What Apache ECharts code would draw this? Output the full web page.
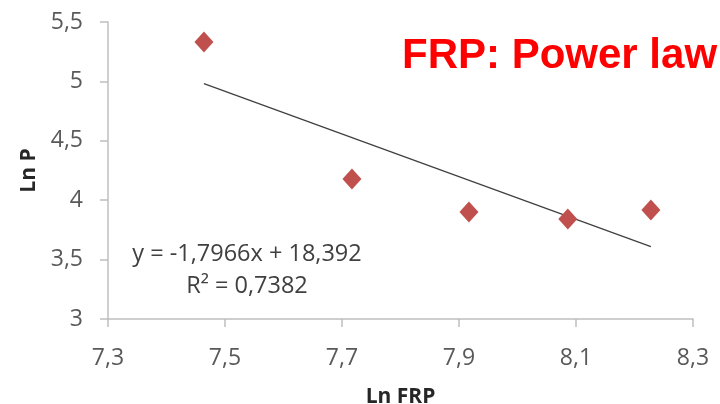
<!DOCTYPE html>
<html><head><meta charset="utf-8">
<script src="https://cdn.jsdelivr.net/npm/echarts@6/dist/echarts.min.js"></script>
<style>html,body{margin:0;padding:0;background:#fff}#c{width:720px;height:404px}</style>
</head><body><div id="c"></div>
<script>
var lnFRP = [7.464, 7.717, 7.917, 8.086, 8.228];
var lnP = [5.332, 4.178, 3.900, 3.842, 3.917];
var trendX = [7.464, 8.228];
var trendY = [4.982, 3.610];
var xTicks = ['7,3','7,5','7,7','7,9','8,1','8,3'];
var yTicks = ['3','3,5','4','4,5','5','5,5'];
var titleText = 'FRP: Power law';
var eqText = 'y = -1,7966x + 18,392';
var r2Text = 'R² = 0,7382';

var font = 'Open Sans';
var chart = echarts.init(document.getElementById('c'));
chart.setOption({
  animation: false,
  grid: {left: 108, right: 27, top: 22, bottom: 85, containLabel: false, outerBoundsMode: 'none'},
  xAxis: {
    type: 'value', min: 7.3, max: 8.3, interval: 0.2,
    name: 'Ln FRP', nameLocation: 'middle', nameGap: 68,
    nameTextStyle: {fontFamily: font, fontWeight: 'bold', fontSize: 21, color: '#262626'},
    axisLine: {show: true, lineStyle: {color: '#bfbfbf', width: 1.5}},
    axisTick: {show: true, length: 8, lineStyle: {color: '#bfbfbf', width: 1.5}},
    splitLine: {show: false},
    axisLabel: {margin: 28, fontFamily: font, fontSize: 23, color: '#595959',
      formatter: function (v) { return xTicks[Math.round((v - 7.3) / 0.2)]; }}
  },
  yAxis: {
    type: 'value', min: 3, max: 5.5, interval: 0.5,
    name: 'Ln P', nameLocation: 'middle', nameGap: 68, nameRotate: 90,
    nameTextStyle: {fontFamily: font, fontWeight: 'bold', fontSize: 21, color: '#262626'},
    axisLine: {show: true, lineStyle: {color: '#bfbfbf', width: 1.5}},
    axisTick: {show: true, length: 8, lineStyle: {color: '#bfbfbf', width: 1.5}},
    splitLine: {show: false},
    axisLabel: {margin: 25, fontFamily: font, fontSize: 23, color: '#595959',
      formatter: function (v) { return yTicks[Math.round((v - 3) / 0.5)]; }}
  },
  series: [
    {type: 'line', data: trendX.map(function (x, i) { return [x, trendY[i]]; }),
      showSymbol: false, symbol: 'none', lineStyle: {color: '#404040', width: 1.3}, z: 1},
    {type: 'scatter', data: lnFRP.map(function (x, i) { return [x, lnP[i]]; }),
      symbol: 'diamond', symbolSize: [19, 21], itemStyle: {color: '#C0504D', opacity: 1}, z: 2}
  ],
  graphic: [
    {type: 'text', left: 402, top: 35, style: {text: titleText, fill: '#ff0000',
      font: 'bold 42px "Liberation Sans", Arial, sans-serif'}},
    {type: 'text', x: 247, y: 254, style: {text: eqText, fill: '#404040', align: 'center', verticalAlign: 'middle',
      font: '23.5px "Open Sans", sans-serif'}},
    {type: 'text', x: 247, y: 286, style: {text: r2Text, fill: '#404040', align: 'center', verticalAlign: 'middle',
      font: '23.5px "Open Sans", sans-serif'}}
  ]
});
</script></body></html>
